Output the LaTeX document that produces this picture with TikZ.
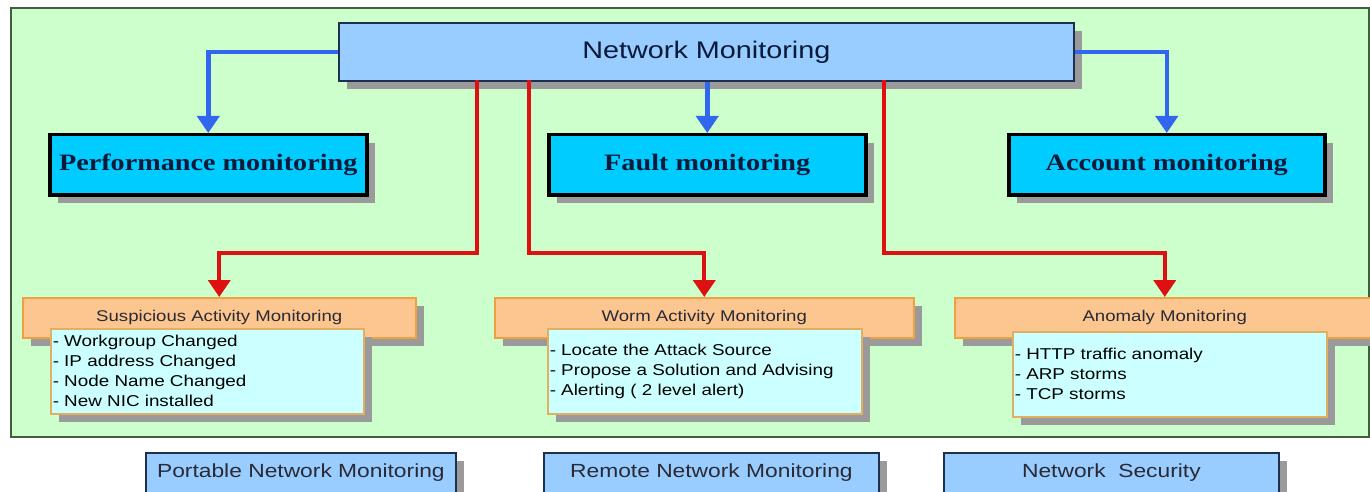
\documentclass[tikz,border=0pt]{standalone}
\usepackage{fontspec}
\setmainfont{Liberation Sans}[FakeStretch=1.2]
\newfontfamily\headserif{Liberation Serif}[FakeStretch=1.2]
\usetikzlibrary{arrows.meta,shadows}

\definecolor{panelfill}{HTML}{CCFFCC}
\definecolor{panelline}{HTML}{3F5F3F}
\definecolor{skyfill}{HTML}{99CCFF}
\definecolor{skyline}{HTML}{1F2F4F}
\definecolor{cyanfill}{HTML}{00CCFF}
\definecolor{navytext}{HTML}{0A1A3A}
\definecolor{orangefill}{HTML}{FCC690}
\definecolor{orangeline}{HTML}{F0A040}
\definecolor{listfill}{HTML}{CCFFFF}
\definecolor{listline}{HTML}{E0B060}
\definecolor{linkblue}{HTML}{3366EE}
\definecolor{linkred}{HTML}{DD1111}
\definecolor{shadowgray}{HTML}{9A9A9A}
\definecolor{darktext}{HTML}{2A2A35}

\begin{document}
\begin{tikzpicture}[x=1pt,y=-1pt,
  boxshadow/.style={general shadow={fill=shadowgray, shadow xshift=8pt, shadow yshift=-8pt}},
  netbox/.style={boxshadow, draw=skyline, line width=1.8pt, fill=skyfill, anchor=north west,
    inner sep=0pt, text=navytext, font=\fontsize{24}{28}\selectfont},
  areabox/.style={boxshadow, draw=black, line width=3.5pt, fill=cyanfill, anchor=north west,
    inner sep=0pt, minimum height=60pt, text=navytext, font=\headserif\bfseries\fontsize{23.5}{28}\selectfont},
  titlebox/.style={boxshadow, draw=orangeline, line width=1.5pt, fill=orangefill, anchor=north west,
    inner sep=0pt, minimum height=40pt, text=darktext, font=\fontsize{15.5}{20}\selectfont},
  listbox/.style={boxshadow, draw=listline, line width=1.5pt, fill=listfill, anchor=north west,
    inner xsep=2pt, inner ysep=0pt, minimum height=85pt, align=left, text=black,
    font=\fontsize{15.7}{20}\selectfont},
  footbox/.style={boxshadow, draw=skyline, line width=1.8pt, fill=skyfill, anchor=north west,
    inner xsep=0pt, inner ysep=5pt, text height=20pt, text depth=30pt, text=darktext,
    font=\fontsize{19}{23}\selectfont},
  bluelink/.style={draw=linkblue, line width=4.5pt, -{Triangle[width=22pt,length=17pt]}},
  redlink/.style={draw=linkred, line width=4pt, -{Triangle[width=22pt,length=17pt]}}
]
\clip (0,0) rectangle (1370,492);
\fill[white] (0,0) rectangle (1370,492);

% green monitoring panel
\draw[panelline, fill=panelfill, line width=1.5pt] (11,8) rectangle (1369,437);

% top node
\node[netbox, minimum width=735pt, minimum height=58pt] (net) at (338,22) {Network Monitoring};

% monitoring areas
\node[areabox, minimum width=317pt] (perf) at (48,133) {Performance monitoring};
\node[areabox, minimum width=317pt] (fault) at (547,133) {Fault monitoring};
\node[areabox, minimum width=316pt] (acct) at (1007,133) {Account monitoring};

% security monitoring titles
\node[titlebox, minimum width=393pt] (susp) at (22,297) {Suspicious Activity Monitoring};
\node[titlebox, minimum width=419pt] (worm) at (494,297) {Worm Activity Monitoring};
\node[titlebox, minimum width=420pt] (anom) at (954,297) {Anomaly Monitoring};

% detail lists
\node[listbox, minimum width=313pt, text width=309pt] (suspl) at (50,328)
  {- Workgroup Changed\\- IP address Changed\\- Node Name Changed\\- New NIC installed};
\node[listbox, minimum width=314pt, text width=310pt] (worml) at (547,328)
  {- Locate the Attack Source\\- Propose a Solution and Advising\\- Alerting ( 2 level alert)};
\node[listbox, minimum width=314pt, text width=310pt] (anoml) at (1012,331)
  {- HTTP traffic anomaly\\- ARP storms\\- TCP storms};

% footer categories
\node[footbox, minimum width=310pt] (port) at (145,452) {Portable Network Monitoring};
\node[footbox, minimum width=335pt] (remote) at (543,452) {Remote Network Monitoring};
\node[footbox, minimum width=335pt] (sec) at (943,452) {Network\ \ Security};

% blue links
\draw[bluelink] (net.west) -| (perf.north);
\draw[bluelink] (net.south -| fault.north) -- (fault.north);
\draw[bluelink] (net.east) -| (acct.north);

% red links
\coordinate (r1) at (477,80);
\coordinate (r2) at (529,80);
\coordinate (r3) at (884,80);
\draw[redlink] (r1) -- ++(0,173) -| (susp.north);
\draw[redlink] (r2) -- ++(0,173) -| (worm.north);
\draw[redlink] (r3) -- ++(0,173) -| (anom.north);
\end{tikzpicture}
\end{document}
